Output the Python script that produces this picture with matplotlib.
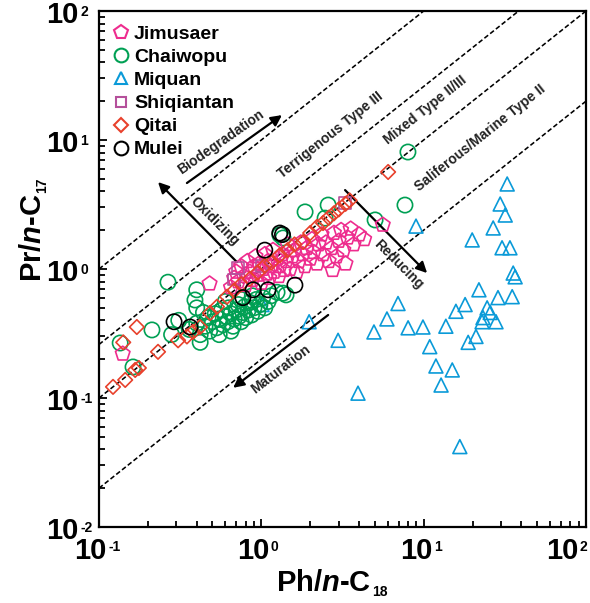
import numpy as np
import matplotlib
matplotlib.use("Agg")
import matplotlib.pyplot as plt
from matplotlib.lines import Line2D

plt.rcParams["font.family"] = ["Liberation Sans", "DejaVu Sans"]
plt.rcParams["mathtext.fontset"] = "custom"
plt.rcParams["mathtext.rm"] = "Liberation Sans:bold"
plt.rcParams["mathtext.it"] = "Liberation Sans:italic:bold"
plt.rcParams["mathtext.bf"] = "Liberation Sans:bold"

# ── data (Ph/n-C18, Pr/n-C17) ─────────────────────────────────────────────
jimusaer_x = [0.14, 0.48, 5.6, 0.65, 0.68, 0.70, 0.72, 0.75, 0.78, 0.80, 0.82, 0.85, 0.88,
              0.90, 0.92, 0.95, 0.97, 1.00, 1.02, 1.05, 1.08, 1.10, 1.12, 1.15, 1.18, 1.20,
              1.25, 1.28, 1.30, 1.35, 1.38, 1.42, 1.45, 1.50, 1.55, 1.60, 1.65, 1.70, 1.75,
              1.80, 1.85, 1.90, 2.00, 2.05, 2.10, 2.20, 2.25, 2.35, 2.40, 2.50, 2.60, 2.70,
              2.80, 2.90, 3.00, 3.10, 3.20, 3.40, 3.55, 3.70, 4.00, 4.30, 2.75, 3.30]
jimusaer_y = [0.22, 0.77, 2.2, 0.72, 0.85, 0.95, 0.80, 1.05, 0.88, 0.75, 1.15, 0.95, 0.82,
              1.05, 1.25, 0.90, 1.10, 0.78, 1.00, 1.30, 0.92, 1.15, 0.85, 1.05, 1.40, 0.95,
              1.20, 0.88, 1.05, 1.30, 0.98, 1.15, 1.55, 1.00, 1.25, 1.40, 0.95, 1.15, 1.60,
              1.30, 1.05, 1.45, 1.20, 1.70, 1.35, 1.10, 1.55, 1.85, 1.30, 1.60, 1.15, 1.45,
              1.90, 1.25, 1.65, 2.00, 1.40, 1.75, 2.05, 1.55, 1.85, 1.70, 0.98, 1.10]

chaiwopu_x = [1.86, 2.58, 2.47, 1.30, 1.36, 0.266, 0.40, 0.39, 0.40, 0.31, 0.212, 0.28,
              0.135, 0.42, 0.162, 1.36, 1.42, 8.0, 7.67, 5.02,
              0.36, 0.40, 0.42, 0.45, 0.47, 0.48, 0.50, 0.52, 0.53, 0.55, 0.57, 0.58, 0.60,
              0.62, 0.63, 0.65, 0.67, 0.68, 0.70, 0.72, 0.73, 0.75, 0.77, 0.79, 0.80, 0.83,
              0.85, 0.87, 0.90, 0.93, 0.95, 0.98, 1.02, 1.05, 1.10, 1.15, 0.55, 0.65, 0.44,
              0.60, 0.88, 1.25, 0.75]
chaiwopu_y = [2.77, 3.13, 2.48, 1.84, 1.74, 0.79, 0.69, 0.575, 0.50, 0.40, 0.337, 0.31,
              0.267, 0.27, 0.174, 0.65, 0.63, 8.07, 3.13, 2.40,
              0.34, 0.38, 0.31, 0.36, 0.42, 0.33, 0.39, 0.45, 0.35, 0.41, 0.48, 0.37, 0.43,
              0.39, 0.50, 0.45, 0.36, 0.41, 0.48, 0.53, 0.43, 0.39, 0.46, 0.51, 0.42, 0.48,
              0.55, 0.44, 0.50, 0.58, 0.47, 0.53, 0.60, 0.50, 0.56, 0.62, 0.31, 0.33, 0.46,
              0.56, 0.62, 0.66, 0.58]

miquan_x = [32.7, 29.6, 31.8, 26.8, 19.9, 30.4, 34.0, 8.97, 35.6, 36.6, 21.9, 28.7, 35.1,
            6.95, 18.0, 15.8, 24.6, 25.7, 23.2, 22.9, 27.9, 5.94, 4.94, 8.02, 9.9, 13.7,
            2.97, 21.0, 18.8, 10.9, 11.9, 15.0, 12.8, 3.94, 16.7, 1.01, 1.97]
miquan_y = [4.56, 3.19, 2.62, 2.08, 1.68, 1.46, 1.46, 2.15, 0.93, 0.87, 0.69, 0.60, 0.61,
            0.54, 0.53, 0.47, 0.50, 0.46, 0.42, 0.39, 0.39, 0.41, 0.325, 0.35, 0.355, 0.36,
            0.28, 0.30, 0.27, 0.25, 0.177, 0.165, 0.126, 0.109, 0.042, 0.53, 0.39]

shiqiantan_x = [3.28, 0.72, 0.68, 1.0]
shiqiantan_y = [3.25, 1.02, 0.83, 1.05]

qitai_x = [0.122, 0.145, 0.167, 0.176, 0.231, 0.171, 0.141, 0.307, 0.348, 0.379, 0.419,
           0.483, 0.533, 0.615, 1.81, 2.20, 2.40, 6.04, 0.68, 0.75, 0.85, 0.95, 1.05,
           1.15, 1.3, 1.45, 1.6, 2.0, 2.6, 2.8, 3.0, 3.3, 3.5]
qitai_y = [0.122, 0.138, 0.165, 0.171, 0.228, 0.355, 0.27, 0.28, 0.30, 0.325, 0.355,
           0.456, 0.51, 0.61, 1.62, 2.12, 2.27, 5.65, 0.68, 0.76, 0.84, 0.94, 1.06,
           1.12, 1.28, 1.4, 1.55, 1.9, 2.5, 2.7, 2.9, 3.2, 3.4]

mulei_x = [1.30, 1.35, 1.05, 0.89, 1.10, 0.77, 1.61, 0.29, 0.364]
mulei_y = [1.90, 1.85, 1.40, 0.69, 0.69, 0.60, 0.75, 0.39, 0.355]

# Pr/Ph boundaries drawn as dashed lines  (Pr/n-C17 = k * Ph/n-C18)
line_ratios = [10, 2.6, 1, 0.2]

series = [
    ("Jimusaer",   jimusaer_x,   jimusaer_y,   "p", "#EE2C8E", 120),
    ("Chaiwopu",   chaiwopu_x,   chaiwopu_y,   "o", "#00A054", 121),
    ("Miquan",     miquan_x,     miquan_y,     "^", "#0A9AD8", 100),
    ("Shiqiantan", shiqiantan_x, shiqiantan_y, "s", "#B5509B", 70),
    ("Qitai",      qitai_x,      qitai_y,      "D", "#E8412C", 55),
    ("Mulei",      mulei_x,      mulei_y,      "o", "#000000", 121),
]
draw_order = ["Miquan", "Chaiwopu", "Jimusaer", "Shiqiantan", "Qitai", "Mulei"]

fig = plt.figure(figsize=(5.9, 6.03), dpi=100)
ax = fig.add_axes([99 / 590, 76 / 603, 487 / 590, 516 / 603])
ax.set_xscale("log")
ax.set_yscale("log")
ax.set_xlim(0.1, 100)
ax.set_ylim(0.01, 100)

xs = np.array([0.1, 100.0])
for k in line_ratios:
    ax.plot(xs, k * xs, color="k", lw=1.15, dashes=(3, 1.6), zorder=1)

lookup = {s[0]: s for s in series}
for z, name in enumerate(draw_order):
    _, x, y, m, c, s = lookup[name]
    ax.scatter(x, y, marker=m, s=s, facecolors="none", edgecolors=c,
               linewidths=1.2, zorder=2 + z)

# ── arrows & annotations ─────────────────────────────────────────────────
arrow_kw = dict(arrowstyle="-|>", color="k", lw=1.6, mutation_scale=16,
                shrinkA=0, shrinkB=0)
ax.annotate("", xy=(1.34, 15.6), xytext=(0.348, 4.64), arrowprops=arrow_kw)
ax.annotate("", xy=(0.231, 4.72), xytext=(0.708, 1.13), arrowprops=arrow_kw)
ax.annotate("", xy=(10.5, 0.93), xytext=(3.28, 4.09), arrowprops=arrow_kw)
ax.annotate("", xy=(0.67, 0.12), xytext=(2.58, 0.44), arrowprops=arrow_kw)

note_kw = dict(fontsize=10, fontweight="bold", color="#222222", textcoords="offset points",
               ha="center", va="center", rotation_mode="anchor")
ax.annotate("Biodegradation", xy=(0.597, 8.67), xytext=(-3, 4), rotation=35, **note_kw)
ax.annotate("Oxidizing", xy=(0.497, 2.23), xytext=(2, 2), rotation=-45, **note_kw)
ax.annotate("Reducing", xy=(7.16, 1.11), xytext=(-1, -1), rotation=-45, **note_kw)
ax.annotate("Maturation", xy=(1.30, 0.171), xytext=(1, -1), rotation=37.5, **note_kw)
ax.annotate("Terrigenous Type III", xy=(2.65, 10.9), xytext=(0, 0), rotation=38.5, **note_kw)
ax.annotate("Mixed Type II/III", xy=(10.2, 17.1), xytext=(0, 0), rotation=38.5, **note_kw)
ax.annotate("Saliferous/Marine Type II", xy=(22.2, 10.4), xytext=(0, 0), rotation=38.5,
            **note_kw)

# ── axes styling ─────────────────────────────────────────────────────────
for sp in ax.spines.values():
    sp.set_linewidth(1.6)
ax.tick_params(which="both", direction="in", top=False, right=False,
               labelbottom=False, labelleft=False, width=1.3)
ax.tick_params(which="major", length=6)
ax.tick_params(which="minor", length=4.5)

tick_font = dict(fontsize=21, fontweight="bold")
exp_font = dict(fontsize=10, fontweight="bold")
for v, e, dx in [(0.1, "-1", -6), (1, "0", -6), (10, "1", -5), (100, "2", -17)]:
    t = ax.annotate("10", xy=(v, 0), xycoords=("data", "axes fraction"),
                    xytext=(dx, -7), textcoords="offset points",
                    ha="center", va="top", **tick_font)
    ax.annotate(e, xy=(1, 1), xycoords=t, xytext=(1, -2.5),
                textcoords="offset points", ha="left", va="top", **exp_font)
for v, e in [(0.01, "-2"), (0.1, "-1"), (1, "0"), (10, "1"), (100, "2")]:
    t = ax.annotate("10", xy=(0, v), xycoords=("axes fraction", "data"),
                    xytext=(-14.5, -3), textcoords="offset points",
                    ha="right", va="center", **tick_font)
    ax.annotate(e, xy=(1, 1), xycoords=t, xytext=(1, -3),
                textcoords="offset points", ha="left", va="top", **exp_font)

# axis titles (figure coordinates, subscripts attached to the end of each title)
xl = fig.text(0.548, 0.057, "Ph/$\\mathit{n}$-C", ha="center", va="top",
              fontsize=21, fontweight="bold")
ax.annotate("18", xy=(1, 0), xycoords=xl, xytext=(1, -1.5), textcoords="offset points",
            ha="left", va="bottom", annotation_clip=False, **exp_font)
yl = fig.text(0.056, 0.605, "Pr/$\\mathit{n}$-C", rotation=90, ha="center", va="center",
              fontsize=21, fontweight="bold")
ax.annotate("17", xy=(1, 1), xycoords=yl, xytext=(1.5, 1), textcoords="offset points",
            rotation=90, ha="right", va="bottom", annotation_clip=False, **exp_font)

handles = [Line2D([], [], ls="none", marker=m, markersize=np.sqrt(s) * 0.9,
                  markerfacecolor="none", markeredgecolor=c, markeredgewidth=1.5,
                  label=n) for n, _, _, m, c, s in series]
ax.legend(handles=handles, loc="upper left", frameon=False,
          prop={"weight": "bold", "size": 14}, handlelength=0.8,
          handletextpad=0.25, labelspacing=0.28, borderaxespad=0.35,
          borderpad=0.4)

fig.savefig("out.png", dpi=100)
